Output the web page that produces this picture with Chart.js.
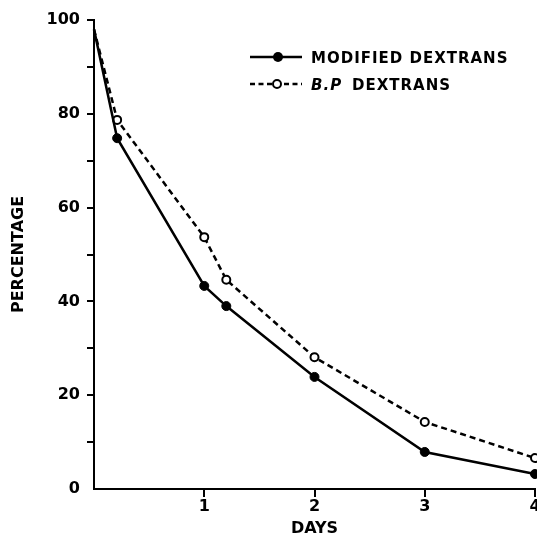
<!DOCTYPE html>
<html>
<head>
<meta charset="utf-8">
<script src="https://cdn.jsdelivr.net/npm/chart.js@4/dist/chart.umd.min.js"></script>
<style>
  html, body { margin: 0; padding: 0; background: #fff; }
  #wrap { width: 537px; height: 537px; position: relative; }
</style>
</head>
<body>
<div id="wrap"><canvas id="c" width="537" height="537"></canvas></div>
<script>
// ---- data ----
const days = [0, 0.21, 1, 1.2, 2, 3, 4];
const modifiedDextrans = [98, 74.8, 43.3, 39.0, 23.9, 7.9, 3.2];
const bpDextrans = [98, 78.7, 53.7, 44.6, 28.1, 14.3, 6.6];
const seriesNames = ['MODIFIED DEXTRANS', 'DEXTRANS'];
const bpPrefix = 'B.P';
const xTitle = 'DAYS';
const yTitle = 'PERCENTAGE';
const xTickLabels = ['1', '2', '3', '4'];

const toPts = (xs, ys) => xs.map((x, i) => ({ x: x, y: ys[i] }));

const FONT = '"DejaVu Sans", sans-serif';

const legendPlugin = {
  id: 'customLegend',
  afterDraw(chart) {
    const ctx = chart.ctx;
    ctx.save();
    ctx.strokeStyle = '#000';
    ctx.fillStyle = '#000';
    // solid
    ctx.lineWidth = 2.5;
    ctx.setLineDash([]);
    ctx.beginPath(); ctx.moveTo(250, 57); ctx.lineTo(302, 57); ctx.stroke();
    ctx.beginPath(); ctx.arc(278, 57, 5, 0, Math.PI * 2); ctx.fill();
    // dashed
    ctx.setLineDash([5, 3.5]);
    ctx.beginPath(); ctx.moveTo(250, 84); ctx.lineTo(302, 84); ctx.stroke();
    ctx.setLineDash([]);
    ctx.lineWidth = 2;
    ctx.fillStyle = '#fff';
    ctx.beginPath(); ctx.arc(277, 84, 4, 0, Math.PI * 2); ctx.fill(); ctx.stroke();
    // text
    ctx.fillStyle = '#000';
    ctx.textBaseline = 'middle';
    ctx.textAlign = 'left';
    try { ctx.letterSpacing = '1px'; } catch (e) {}
    ctx.font = 'bold 15px ' + FONT;
    ctx.fillText(seriesNames[0], 311, 59);
    ctx.font = 'italic bold 15px ' + FONT;
    ctx.fillText(bpPrefix, 311, 86);
    ctx.font = 'bold 15px ' + FONT;
    ctx.fillText(seriesNames[1], 352, 86);
    ctx.restore();
  }
};

const isLabelled = v => xTickLabels.indexOf(String(v)) >= 0;

new Chart(document.getElementById('c'), {
  type: 'scatter',
  data: {
    datasets: [
      {
        label: seriesNames[0],
        data: toPts(days, modifiedDextrans),
        showLine: true,
        borderColor: '#000',
        backgroundColor: '#000',
        borderWidth: 2.5,
        pointRadius: days.map((d, i) => i === 0 ? 0 : 4.5),
        pointBackgroundColor: '#000',
        pointBorderColor: '#000',
        pointBorderWidth: 1,
        tension: 0,
        clip: false
      },
      {
        label: 'B.P DEXTRANS',
        data: toPts(days, bpDextrans),
        showLine: true,
        borderColor: '#000',
        backgroundColor: '#fff',
        borderWidth: 2.5,
        borderDash: [6, 4],
        pointRadius: days.map((d, i) => i === 0 ? 0 : 4),
        pointBackgroundColor: '#fff',
        pointBorderColor: '#000',
        pointBorderWidth: 2,
        tension: 0,
        clip: false
      }
    ]
  },
  options: {
    responsive: false,
    animation: false,
    events: [],
    layout: { autoPadding: false, padding: { left: 0, right: 2, top: 20, bottom: 0 } },
    plugins: { legend: { display: false }, tooltip: { enabled: false } },
    scales: {
      x: {
        type: 'linear',
        min: 0, max: 4,
        afterFit(s) { s.height = 48; s.paddingLeft = 0; s.paddingRight = 0; },
        border: { display: true, color: '#000', width: 2 },
        grid: {
          display: true, drawOnChartArea: false, drawTicks: true, tickLength: 8,
          color: c => (c.tick && isLabelled(c.tick.value) ? '#000' : 'rgba(0,0,0,0)'),
          lineWidth: 2
        },
        ticks: {
          stepSize: 1,
          color: '#000',
          padding: 0,
          maxRotation: 0,
          autoSkip: false,
          font: { family: FONT, size: 16, weight: 'bold' },
          callback: v => (isLabelled(v) ? String(v) : '')
        },
        title: { display: true, text: xTitle, color: '#000', font: { family: FONT, size: 16, weight: 'bold' }, padding: { top: 0, bottom: -1 } }
      },
      y: {
        min: 0, max: 100,
        afterFit(s) { s.width = 94; s.paddingTop = 0; s.paddingBottom = 0; },
        border: { display: true, color: '#000', width: 2 },
        grid: {
          display: true, drawOnChartArea: false, drawTicks: true, tickLength: 7,
          color: c => (c.tick && c.tick.value === 0 ? 'rgba(0,0,0,0)' : '#000'),
          lineWidth: 2
        },
        ticks: {
          stepSize: 10,
          color: '#000',
          padding: 7,
          font: { family: FONT, size: 16, weight: 'bold' },
          callback: v => (v % 20 === 0 ? String(v) : '')
        },
        title: { display: true, text: yTitle, color: '#000', font: { family: FONT, size: 16, weight: 'bold' }, padding: { top: 9, bottom: 0 } }
      }
    }
  },
  plugins: [legendPlugin]
});
</script>
</body>
</html>
